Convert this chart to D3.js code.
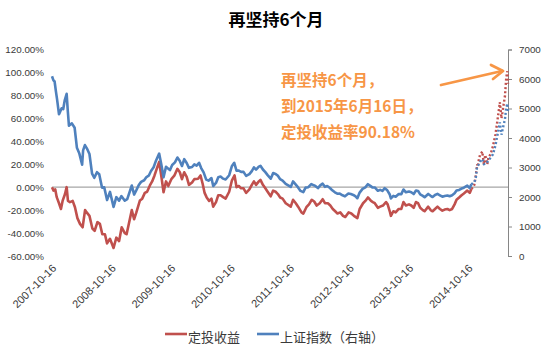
<!DOCTYPE html>
<html><head><meta charset="utf-8">
<script src="https://cdn.jsdelivr.net/npm/d3@7/dist/d3.min.js"></script>
<style>body{margin:0;background:#fff}svg{display:block}</style>
</head><body>
<svg id="c" width="550" height="349"></svg>
<script>
// ---- DATA ----
const chartTitle = "再坚持6个月";
const seriesNames = ["定投收益", "上证指数（右轴）"];
const annotationLines = ["再坚持6个月，", "到2015年6月16日，", "定投收益率90.18%"];
const leftTicks = [-60, -40, -20, 0, 20, 40, 60, 80, 100, 120];
const rightTicks = [0, 1000, 2000, 3000, 4000, 5000, 6000, 7000];
const xTickLabels = ["2007-10-16","2008-10-16","2009-10-16","2010-10-16","2011-10-16","2012-10-16","2013-10-16","2014-10-16"];
const startDate = "2007-10-16", endDate = "2015-06-16";
const dashFrom = "2014-11-03";

const indexDates = ["2007-10-16","2007-10-25","2007-11-01","2007-11-09","2007-11-16","2007-11-28","2007-12-03","2007-12-14","2007-12-24","2008-01-02","2008-01-14","2008-01-21","2008-01-28","2008-02-15","2008-03-03","2008-03-17","2008-04-01","2008-04-18","2008-04-24","2008-05-05","2008-05-19","2008-06-02","2008-06-18","2008-07-02","2008-07-18","2008-08-01","2008-08-18","2008-09-01","2008-09-18","2008-10-06","2008-10-28","2008-11-14","2008-12-01","2008-12-15","2009-01-05","2009-01-20","2009-02-17","2009-03-03","2009-03-17","2009-04-01","2009-04-15","2009-05-04","2009-05-18","2009-06-01","2009-06-15","2009-07-01","2009-07-16","2009-08-04","2009-08-17","2009-08-31","2009-09-15","2009-10-09","2009-10-23","2009-11-09","2009-11-24","2009-12-08","2009-12-22","2010-01-05","2010-01-20","2010-02-03","2010-02-22","2010-03-08","2010-03-22","2010-04-06","2010-04-19","2010-05-04","2010-05-20","2010-06-03","2010-06-21","2010-07-02","2010-07-19","2010-08-02","2010-08-16","2010-09-01","2010-09-16","2010-10-08","2010-10-25","2010-11-08","2010-11-22","2010-12-06","2010-12-20","2011-01-04","2011-01-20","2011-02-09","2011-02-24","2011-03-09","2011-03-22","2011-04-08","2011-04-18","2011-05-03","2011-05-18","2011-06-01","2011-06-20","2011-07-05","2011-07-20","2011-08-03","2011-08-17","2011-09-01","2011-09-20","2011-10-21","2011-11-04","2011-11-21","2011-12-05","2011-12-20","2012-01-06","2012-01-20","2012-02-06","2012-02-24","2012-03-06","2012-03-20","2012-04-05","2012-04-19","2012-05-04","2012-05-18","2012-06-01","2012-06-18","2012-07-02","2012-07-18","2012-08-02","2012-08-17","2012-09-03","2012-09-18","2012-10-09","2012-10-24","2012-11-08","2012-11-22","2012-12-03","2012-12-17","2013-01-04","2013-01-21","2013-02-06","2013-02-25","2013-03-05","2013-03-20","2013-04-08","2013-04-22","2013-05-06","2013-05-20","2013-06-03","2013-06-20","2013-06-27","2013-07-12","2013-07-26","2013-08-14","2013-08-30","2013-09-12","2013-09-27","2013-10-16","2013-10-30","2013-11-14","2013-11-28","2013-12-11","2013-12-24","2014-01-09","2014-01-20","2014-02-11","2014-02-26","2014-03-10","2014-03-25","2014-04-09","2014-04-24","2014-05-09","2014-05-23","2014-06-09","2014-06-23","2014-07-08","2014-07-23","2014-08-04","2014-08-20","2014-09-04","2014-09-18","2014-10-09","2014-10-24","2014-11-03","2014-11-14","2014-11-21","2014-12-01","2014-12-08","2014-12-19","2014-12-31","2015-01-09","2015-01-19","2015-02-02","2015-02-16","2015-03-02","2015-03-16","2015-03-31","2015-04-13","2015-04-27","2015-05-07","2015-05-20","2015-05-28","2015-06-05","2015-06-12","2015-06-16"];
const indexValues = [6092,5955,5915,5580,5317,4803,4868,5007,4980,5272,5497,4914,4419,4497,4348,3668,3472,3094,3583,3761,3630,3459,2795,2651,2840,2775,2319,2325,1896,2173,1664,1995,1876,2032,1876,1925,2389,2083,2235,2408,2513,2567,2677,2721,2880,3008,3240,3471,3112,2667,3026,2911,3085,3175,3338,3231,3050,3282,3151,2989,3017,3105,3062,3158,2980,2835,2588,2554,2643,2373,2475,2672,2693,2622,2592,2738,3051,3159,2894,2895,2853,2852,2715,2774,2879,3002,2929,3030,3057,2932,2843,2743,2621,2810,2783,2717,2604,2556,2443,2340,2528,2417,2325,2206,2163,2319,2331,2439,2409,2376,2302,2395,2452,2344,2373,2306,2227,2158,2111,2114,2059,2023,2116,2100,2070,2020,1959,2150,2277,2329,2434,2359,2326,2324,2211,2243,2205,2300,2239,2084,1950,2039,2010,2100,2098,2255,2160,2184,2160,2100,2220,2202,2090,2038,1991,2103,2041,1999,2067,2105,2058,2011,2035,2052,2025,2060,2126,2222,2240,2288,2316,2389,2302,2430,2478,2487,2680,3020,3108,3235,3285,3116,3128,3247,3336,3449,3748,4121,4527,4112,4446,4620,5023,5166,4887];

const returnDates = ["2007-10-16","2007-10-25","2007-11-05","2007-11-14","2007-11-28","2007-12-10","2007-12-20","2008-01-04","2008-01-14","2008-01-22","2008-02-03","2008-02-20","2008-03-05","2008-03-20","2008-04-05","2008-04-21","2008-05-06","2008-05-16","2008-06-02","2008-06-20","2008-07-04","2008-07-21","2008-08-05","2008-08-20","2008-09-05","2008-09-18","2008-10-06","2008-10-28","2008-11-14","2008-12-01","2008-12-17","2009-01-05","2009-01-16","2009-02-17","2009-03-03","2009-03-17","2009-04-08","2009-04-22","2009-05-08","2009-05-22","2009-06-08","2009-06-22","2009-07-06","2009-07-20","2009-08-04","2009-08-17","2009-08-31","2009-09-15","2009-09-29","2009-10-19","2009-11-05","2009-11-24","2009-12-09","2009-12-22","2010-01-05","2010-01-20","2010-02-03","2010-02-22","2010-03-08","2010-03-31","2010-04-15","2010-04-28","2010-05-10","2010-05-22","2010-06-07","2010-06-21","2010-07-02","2010-07-19","2010-08-02","2010-08-16","2010-09-01","2010-09-16","2010-10-08","2010-10-25","2010-11-10","2010-11-22","2010-12-06","2010-12-20","2011-01-04","2011-01-20","2011-02-09","2011-02-24","2011-03-09","2011-03-22","2011-04-08","2011-04-18","2011-05-03","2011-05-18","2011-06-01","2011-06-20","2011-07-05","2011-07-20","2011-08-03","2011-08-17","2011-09-01","2011-09-20","2011-10-21","2011-11-04","2011-11-21","2011-12-05","2011-12-26","2012-01-06","2012-01-25","2012-02-10","2012-02-27","2012-03-13","2012-03-28","2012-04-16","2012-05-04","2012-05-18","2012-06-05","2012-06-20","2012-07-05","2012-07-20","2012-08-03","2012-08-20","2012-09-06","2012-09-20","2012-10-10","2012-10-27","2012-11-12","2012-12-03","2012-12-17","2013-01-07","2013-01-21","2013-02-06","2013-02-25","2013-03-08","2013-03-20","2013-04-08","2013-04-22","2013-05-09","2013-05-28","2013-06-07","2013-06-20","2013-06-27","2013-07-12","2013-07-26","2013-08-14","2013-08-30","2013-09-12","2013-09-27","2013-10-16","2013-10-30","2013-11-14","2013-11-28","2013-12-11","2013-12-24","2014-01-09","2014-01-20","2014-02-11","2014-02-26","2014-03-10","2014-03-25","2014-04-09","2014-04-24","2014-05-09","2014-05-23","2014-06-09","2014-06-23","2014-07-08","2014-07-23","2014-08-04","2014-08-20","2014-09-04","2014-09-18","2014-10-09","2014-10-24","2014-11-03","2014-11-14","2014-11-21","2014-11-28","2014-12-05","2014-12-09","2014-12-12","2014-12-19","2014-12-26","2014-12-31","2015-01-09","2015-01-19","2015-01-27","2015-02-09","2015-02-16","2015-03-02","2015-03-16","2015-03-31","2015-04-13","2015-04-27","2015-05-07","2015-05-20","2015-05-28","2015-06-05","2015-06-12","2015-06-16"];
const returnValues = [0,-3,-2,-8.7,-14,-19,-12,-6,0,-12,-13,-12,-17.5,-27,-32,-35,-20,-22,-25,-36,-38,-30.5,-32,-41,-41,-49,-45,-53,-44,-47,-35,-40,-41,-20,-28,-22,-11.6,-10,-5,-4,1.5,5,10,16,22,10,-4.4,5,1,7.3,10,16,13,7,13,9,2,4,7,7.3,10.2,3,-5,-8.7,-12,-10,-17,-13,-7,-7,-8.7,-10,-4,6,10.2,0,1,-1,-1,-5,-2,2,5,2,5,6.4,2,-1,-4,-8,-3,-4,-6,-9,-10,-14,-17,-11,-14,-17,-22,-23,-17.5,-15,-11,-12.5,-16,-14,-10.5,-14,-14,-16,-19,-21,-23,-22,-25,-26,-22,-23,-25,-27,-19,-14,-12,-9,-12,-13,-14,-18,-17,-16,-13,-15,-21,-25,-21,-22,-19,-19,-13,-16,-15,-16,-18,-13,-14,-18,-20,-21,-17,-20,-21,-19,-17,-19,-20.5,-19.5,-19,-20,-19,-15,-11,-9,-7,-5.5,-3,-5,-1.5,0,2,8,15,20,18,24,28,29,31,20,28,20,26,29,36,46,59,74,60,72,79,95,101,90.18];

// ---- CHART ----
const parse = d3.timeParse("%Y-%m-%d");
const svg = d3.select("#c");
const plotL = 52, plotR = 508, plotT = 49.5, plotB = 256;
const x = d3.scaleTime().domain([parse(startDate), parse(endDate)]).range([plotL, plotR]);
const yL = d3.scaleLinear().domain([-60, 120]).range([plotB, plotT]);
const yR = d3.scaleLinear().domain([0, 7000]).range([plotB, plotT]);
const axisFont = "'Liberation Sans', Arial, sans-serif";
const cjk = "'Noto Sans CJK SC', sans-serif";
const textCol = "#3a3a3a";
const red = "#C0504D", blue = "#4F81BD", orange = "#F79646";

// title
svg.append("text").attr("x", 276).attr("y", 18).attr("text-anchor", "middle")
  .attr("dominant-baseline", "central").attr("font-family", cjk).attr("font-weight", "bold")
  .attr("font-size", 17).attr("fill", "#000").text(chartTitle);

// left axis labels (no axis line)
const gL = svg.append("g").attr("transform", `translate(${plotL},0)`)
  .call(d3.axisLeft(yL).tickValues(leftTicks).tickSize(0).tickPadding(8).tickFormat(d => d.toFixed(2) + "%"));
gL.select(".domain").remove();
gL.selectAll("text").attr("font-family", axisFont).attr("font-size", 9.8).attr("fill", textCol);

// right axis
const gR = svg.append("g").attr("transform", `translate(${plotR},0)`)
  .call(d3.axisRight(yR).tickValues(rightTicks).tickSize(4).tickPadding(7).tickFormat(d3.format("d")));
gR.select(".domain").attr("stroke", "#868686");
gR.selectAll("line").attr("stroke", "#868686");
gR.selectAll("text").attr("font-family", axisFont).attr("font-size", 9.8).attr("fill", textCol);

// zero line (category axis)
svg.append("line").attr("x1", plotL).attr("x2", plotR).attr("y1", yL(0)).attr("y2", yL(0))
  .attr("stroke", "#A6A6A6").attr("stroke-width", 1.3);

// x tick labels rotated
svg.append("g").selectAll("text").data(xTickLabels).join("text")
  .attr("transform", d => `translate(${x(parse(d)) + 5},${plotB + 13}) rotate(-45)`)
  .attr("text-anchor", "end").attr("font-family", axisFont).attr("font-size", 11)
  .attr("fill", textCol).text(d => d);

// series
function drawSeries(dates, values, yScale, color) {
  const pts = dates.map((d, i) => ({ date: parse(d), v: values[i] }));
  const cut = parse(dashFrom);
  const solid = pts.filter(p => p.date <= cut);
  const dotted = pts.filter(p => p.date >= cut);
  const line = d3.line().x(p => x(p.date)).y(p => yScale(p.v));
  svg.append("path").datum(solid).attr("d", line).attr("fill", "none")
    .attr("stroke", color).attr("stroke-width", 2.6).attr("stroke-linejoin", "round");
  svg.append("path").datum(dotted).attr("d", line).attr("fill", "none")
    .attr("stroke", color).attr("stroke-width", 2.4).attr("stroke-dasharray", "2,2.2");
}
drawSeries(returnDates, returnValues, yL, red);
drawSeries(indexDates, indexValues, yR, blue);

// annotation
annotationLines.forEach((t, i) => {
  svg.append("text").attr("x", 281).attr("y", 79 + i * 26).attr("dominant-baseline", "central")
    .attr("font-family", cjk).attr("font-weight", "bold").attr("font-size", 15.5)
    .attr("fill", orange).text(t);
});
// arrow
svg.append("line").attr("x1", 441).attr("y1", 85).attr("x2", 502).attr("y2", 71)
  .attr("stroke", orange).attr("stroke-width", 2.8).attr("stroke-linecap", "round");
svg.append("path").attr("d", "M491,65 L503,71 L493,79").attr("fill", "none")
  .attr("stroke", orange).attr("stroke-width", 2.8).attr("stroke-linecap", "round").attr("stroke-linejoin", "round");

// legend
const legend = [[165, seriesNames[0], red], [257, seriesNames[1], blue]];
legend.forEach(([lx, name, col]) => {
  svg.append("line").attr("x1", lx).attr("x2", lx + 22).attr("y1", 334).attr("y2", 334)
    .attr("stroke", col).attr("stroke-width", 2.6);
  svg.append("text").attr("x", lx + 23).attr("y", 336.5).attr("dominant-baseline", "central")
    .attr("font-family", cjk).attr("font-size", 13).attr("fill", textCol).text(name);
});
</script>
</body></html>
